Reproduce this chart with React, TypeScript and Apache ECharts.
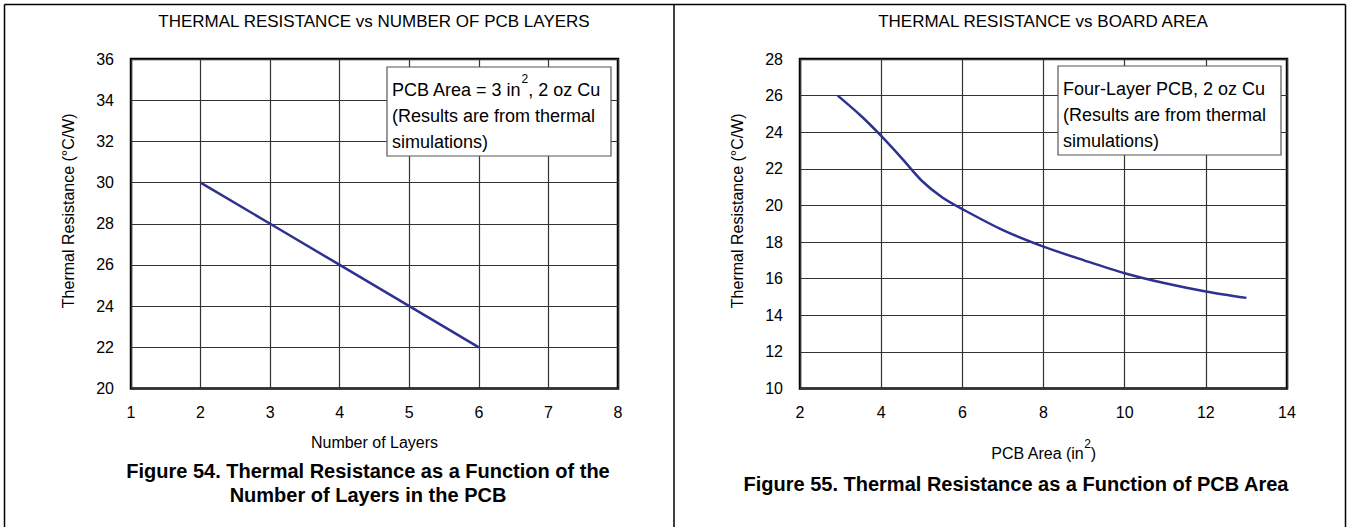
import React, { useEffect, useRef } from "react";
import * as echarts from "echarts";

// ---- data ----
const layerTicks = [1, 2, 3, 4, 5, 6, 7, 8];
const layers = [2, 3, 4, 5, 6];
const layerResistance = [30, 28, 26, 24, 22];

const boardArea = [2.93, 3.5, 4, 4.5, 5, 5.5, 6, 7, 8, 9, 10, 11, 12, 13];
const areaResistance = [26.0, 24.9, 23.8, 22.6, 21.35, 20.45, 19.8, 18.65, 17.75, 17.0, 16.3, 15.75, 15.3, 14.95];

const leftTitle = "THERMAL RESISTANCE vs NUMBER OF PCB LAYERS";
const rightTitle = "THERMAL RESISTANCE vs BOARD AREA";
const leftNote = ["PCB Area = 3 in{sup|2}, 2 oz Cu", "(Results are from thermal", "simulations)"];
const rightNote = ["Four-Layer PCB, 2 oz Cu", "(Results are from thermal", "simulations)"];
const leftCaption = ["Figure 54. Thermal Resistance as a Function of the", "Number of Layers in the PCB"];
const rightCaption = ["Figure 55. Thermal Resistance as a Function of PCB Area"];

const FONT = "'Liberation Sans', Arial, Helvetica, sans-serif";
const LINE = "#2E3192";

export default function App() {
  const ref = useRef<HTMLDivElement>(null);
  useEffect(() => {
    if (!ref.current) return;
    const chart = echarts.init(ref.current, undefined, { renderer: "svg" });

    const gridBase = {
      top: 59,
      width: 487,
      height: 329.5,
      show: true,
      borderColor: "#000",
      borderWidth: 2.5,
      backgroundColor: "transparent",
    };
    const axisCommon = {
      axisLine: { show: false },
      axisTick: { show: false },
      splitLine: { show: true, lineStyle: { color: "#333", width: 1.2 } },
      axisLabel: { color: "#000", fontSize: 16, fontFamily: FONT },
      nameTextStyle: { color: "#000", fontSize: 16, fontFamily: FONT },
    };
    const yNameStyle = { ...axisCommon.nameTextStyle, padding: [0, 0, 0, 26] };

    const noteGraphic = (x: number, y: number, w: number, h: number, lines: string[]) => ({
      type: "group",
      children: [
        {
          type: "rect",
          shape: { x, y, width: w, height: h },
          style: { fill: "#fff", stroke: "#555", lineWidth: 1.2 },
          z: 10,
        },
        ...lines.map((t, i) => ({
          type: "text",
          z: 11,
          style: {
            text: t,
            x: x + 5,
            y: y + 23 + i * 26,
            fontSize: 18,
            fontFamily: FONT,
            fill: "#000",
            align: "left",
            verticalAlign: "middle",
            lineHeight: 34,
            rich: {
              sup: { fontSize: 12, lineHeight: 10, verticalAlign: "top", fontFamily: FONT, fill: "#000" },
            },
          },
        })),
      ],
    });

    const textEl = (text: string, x: number, y: number, size: number, bold = false) => ({
      type: "text",
      style: {
        text,
        x,
        y,
        fontSize: size,
        fontWeight: bold ? "bold" : "normal",
        fontFamily: FONT,
        fill: "#000",
        align: "center",
        verticalAlign: "middle",
      },
    });

    chart.setOption({
      animation: false,
      backgroundColor: "#fff",
      grid: [
        { ...gridBase, left: 131 },
        { ...gridBase, left: 800 },
      ],
      xAxis: [
        {
          ...axisCommon,
          type: "value",
          gridIndex: 0,
          min: 1,
          max: 8,
          interval: 1,
          name: "Number of Layers",
          nameLocation: "middle",
          nameGap: 46,
          axisLabel: { ...axisCommon.axisLabel, margin: 16, formatter: (v: number) => (layerTicks.includes(v) ? String(v) : "") },
        },
        {
          ...axisCommon,
          type: "value",
          gridIndex: 1,
          min: 2,
          max: 14,
          interval: 2,
          name: "PCB Area (in{sup|2})",
          nameLocation: "middle",
          nameGap: 49,
          nameTextStyle: {
            ...axisCommon.nameTextStyle,
            lineHeight: 32,
            rich: { sup: { fontSize: 12, lineHeight: 10, verticalAlign: "top", fontFamily: FONT, color: "#000" } },
          },
          axisLabel: { ...axisCommon.axisLabel, margin: 16 },
        },
      ],
      yAxis: [
        {
          ...axisCommon,
          type: "value",
          gridIndex: 0,
          min: 20,
          max: 36,
          interval: 2,
          name: "Thermal Resistance (°C/W)",
          nameLocation: "middle",
          nameGap: 55,
          nameTextStyle: yNameStyle,
          axisLabel: { ...axisCommon.axisLabel, margin: 17 },
        },
        {
          ...axisCommon,
          type: "value",
          gridIndex: 1,
          min: 10,
          max: 28,
          interval: 2,
          name: "Thermal Resistance (°C/W)",
          nameLocation: "middle",
          nameGap: 55,
          nameTextStyle: yNameStyle,
          axisLabel: { ...axisCommon.axisLabel, margin: 17 },
        },
      ],
      series: [
        {
          type: "line",
          xAxisIndex: 0,
          yAxisIndex: 0,
          data: layers.map((x, i) => [x, layerResistance[i]]),
          showSymbol: false,
          lineStyle: { color: LINE, width: 2.5 },
          z: 5,
        },
        {
          type: "line",
          xAxisIndex: 1,
          yAxisIndex: 1,
          data: boardArea.map((x, i) => [x, areaResistance[i]]),
          smooth: 0.3,
          showSymbol: false,
          lineStyle: { color: LINE, width: 2.5 },
          z: 5,
        },
      ],
      graphic: [
        { type: "line", shape: { x1: 4.5, y1: 4.5, x2: 1345.5, y2: 4.5 }, style: { stroke: "#000", lineWidth: 1.5 } },
        { type: "line", shape: { x1: 4.5, y1: 4.5, x2: 4.5, y2: 527 }, style: { stroke: "#000", lineWidth: 1.5 } },
        { type: "line", shape: { x1: 674, y1: 4.5, x2: 674, y2: 527 }, style: { stroke: "#000", lineWidth: 1.5 } },
        { type: "line", shape: { x1: 1345.5, y1: 4.5, x2: 1345.5, y2: 527 }, style: { stroke: "#000", lineWidth: 1.5 } },
        textEl(leftTitle, 374, 21, 17),
        textEl(rightTitle, 1043, 21, 17),
        noteGraphic(387, 67, 224, 89, leftNote),
        noteGraphic(1058, 66, 223, 89, rightNote),
        ...leftCaption.map((t, i) => textEl(t, 368, 471 + i * 24, 20, true)),
        ...rightCaption.map((t) => textEl(t, 1016, 484, 20, true)),
      ],
    });
    return () => chart.dispose();
  }, []);
  return <div ref={ref} style={{ position: "fixed", left: 0, top: 0, width: 1349, height: 527 }} />;
}
